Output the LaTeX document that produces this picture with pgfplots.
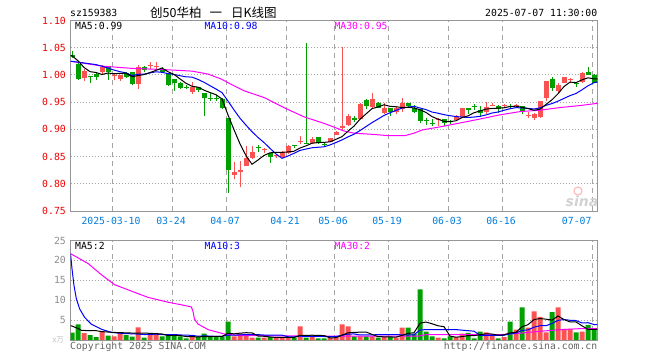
\documentclass[border=0pt]{standalone}
\usepackage{fontspec}
\usepackage{pgfplots}
\usepackage{pgfplotstable}
\pgfplotsset{compat=1.18}
\setmainfont{DejaVu Sans Mono}
\newfontfamily\monof{DejaVu Sans Mono}
\newfontfamily\cjk{Noto Sans CJK SC}
\newfontfamily\sinaf{DejaVu Sans}
\definecolor{cred}{RGB}{250,82,82}
\definecolor{cgreen}{RGB}{0,160,0}
\definecolor{framegray}{RGB}{150,150,150}
\definecolor{gridgray}{RGB}{165,165,165}
\definecolor{tickred}{RGB}{240,0,0}
\definecolor{tickblue}{RGB}{0,125,220}
\definecolor{volgray}{RGB}{140,140,140}
\definecolor{mag}{RGB}{255,0,255}
\definecolor{copygray}{RGB}{100,100,100}
\newcommand{\monosz}{\monof\fontsize{9.8bp}{11bp}\selectfont}

\pgfplotstableread{
i bot top lo hi
2 0.9940 1.0064 0.9880 1.0100
5 1.0046 1.0150 1.0015 1.0187
7 0.9980 1.0000 0.9900 1.0030
8 0.9917 0.9990 0.9890 1.0000
11 0.9833 1.0150 0.9740 1.0175
13 1.0162 1.0182 1.0100 1.0230
14 1.0144 1.0164 1.0089 1.0236
20 0.9683 0.9782 0.9647 0.9867
27 0.8163 0.8212 0.8081 0.8406
28 0.8212 0.8249 0.7940 0.8424
29 0.8333 0.8480 0.8320 0.8689
30 0.8480 0.8590 0.8455 0.8689
32 0.8612 0.8632 0.8572 0.8665
34 0.8502 0.8522 0.8480 0.8530
35 0.8493 0.8590 0.8480 0.8600
36 0.8572 0.8689 0.8554 0.8713
38 0.8765 0.8785 0.8738 0.8879
40 0.8750 0.8830 0.8726 0.8867
43 0.8775 0.8836 0.8762 0.8848
44 0.8898 0.8959 0.8898 0.8971
45 0.9020 0.9069 0.8996 1.0518
46 0.9082 0.9254 0.9070 0.9278
48 0.9192 0.9475 0.9180 0.9487
50 0.9413 0.9560 0.9400 0.9659
52 0.9303 0.9389 0.9290 0.9487
54 0.9315 0.9400 0.9278 0.9425
55 0.9376 0.9487 0.9327 0.9585
61 0.9175 0.9195 0.9070 0.9217
64 0.9168 0.9241 0.9156 0.9266
65 0.9229 0.9389 0.9217 0.9389
69 0.9327 0.9413 0.9290 0.9500
70 0.9428 0.9448 0.9425 0.9487
72 0.9428 0.9448 0.9413 0.9475
74 0.9428 0.9448 0.9413 0.9475
76 0.9247 0.9267 0.9217 0.9327
77 0.9205 0.9290 0.9180 0.9300
78 0.9229 0.9512 0.9217 0.9524
79 0.9585 0.9880 0.9524 0.9892
81 0.9696 0.9818 0.9659 0.9855
82 0.9855 0.9954 0.9843 0.9966
83 0.9898 0.9918 0.9855 0.9941
85 0.9868 1.0027 0.9855 1.0052
}\redtab

\pgfplotstableread{
i bot top lo hi
0 1.0334 1.0370 1.0310 1.0445
1 0.9917 1.0200 0.9900 1.0210
3 0.9955 0.9975 0.9850 0.9980
4 0.9955 1.0015 0.9900 1.0030
6 1.0052 1.0168 0.9904 1.0170
9 0.9966 1.0027 0.9940 1.0045
10 0.9833 1.0046 0.9810 1.0058
12 1.0089 1.0150 1.0058 1.0162
15 1.0052 1.0100 1.0040 1.0138
16 0.9806 1.0027 0.9790 1.0035
17 0.9843 0.9917 0.9708 0.9925
18 0.9769 0.9855 0.9745 0.9867
19 0.9762 0.9782 0.9750 0.9818
21 0.9720 0.9770 0.9695 0.9780
22 0.9567 0.9659 0.9244 0.9665
23 0.9556 0.9576 0.9524 0.9659
24 0.9556 0.9576 0.9524 0.9630
25 0.9389 0.9560 0.9376 0.9570
26 0.8259 0.9217 0.7829 0.9217
31 0.8652 0.8672 0.8590 0.8713
33 0.8493 0.8563 0.8390 0.8570
37 0.8698 0.8718 0.8650 0.8718
39 0.8722 0.8742 0.8722 1.0580
41 0.8750 0.8867 0.8738 0.8867
42 0.8717 0.8737 0.8700 0.8775
47 0.9180 0.9217 0.9143 0.9254
49 0.9438 0.9536 0.9376 0.9560
51 0.9400 0.9487 0.9389 0.9500
53 0.9327 0.9389 0.9241 0.9389
56 0.9425 0.9487 0.9413 0.9487
57 0.9327 0.9400 0.9300 0.9450
58 0.9160 0.9370 0.9110 0.9380
59 0.9158 0.9178 0.9080 0.9217
60 0.9098 0.9118 0.9070 0.9190
62 0.9118 0.9192 0.9070 0.9192
63 0.9138 0.9158 0.9107 0.9168
66 0.9352 0.9389 0.9290 0.9400
67 0.9407 0.9427 0.9364 0.9475
68 0.9300 0.9352 0.9230 0.9438
71 0.9376 0.9425 0.9300 0.9450
73 0.9408 0.9428 0.9376 0.9475
75 0.9340 0.9425 0.9278 0.9438
80 0.9769 0.9929 0.9708 0.9954
84 0.9835 0.9855 0.9780 0.9855
86 1.0003 1.0052 0.9990 1.0150
87 0.9855 1.0003 0.9843 1.0015
}\greentab

\pgfplotstableread{
i v
2 1.7
5 2.2
7 0.9
8 1.8
11 3.2
13 1.3
14 1.6
20 0.75
27 0.9
28 1.6
29 1.3
30 0.6
32 0.6
34 0.6
35 0.6
36 0.6
38 3.45
40 0.75
43 0.6
44 0.7
45 3.9
46 3.45
48 0.9
50 0.9
52 0.75
54 0.6
55 3.1
61 0.6
64 0.75
65 1.6
69 1.9
70 1.3
72 0.75
74 2.6
76 3.1
77 7.2
78 5.8
79 1.9
81 8.2
82 2.8
83 2.8
85 2.1
}\redvol

\pgfplotstableread{
i v
0 1.85
1 3.9
3 1.2
4 0.7
6 1.1
9 1.2
10 0.85
12 0.6
15 0.9
16 1.1
17 1.1
18 0.9
19 0.4
21 0.75
22 1.6
23 0.75
24 0.75
25 0.75
26 4.6
31 0.6
33 0.75
37 0.6
39 0.6
41 0.4
42 0.4
47 0.9
49 0.9
51 0.6
53 0.75
56 3.1
57 1.6
58 12.7
59 2.1
60 0.9
62 0.4
63 0.9
66 1.8
67 0.4
68 2.1
71 0.4
73 4.6
75 8.2
80 7.0
84 1.9
86 3.8
87 2.6
}\greenvol

\pgfplotsset{
  common/.style={scale only axis, width=527bp, xmin=-0.25, xmax=87.58,
    axis line style={draw=framegray, line width=1bp},
    tick style={draw=none},
    xtick={6.75,16.75,25.75,35.75,43.75,52.75,62.75,71.75,86.75},
    xmajorgrids, ymajorgrids,
    x grid style={draw=gridgray, dash pattern=on 5bp off 4bp, line width=1bp},
    y grid style={draw=gridgray, dash pattern=on 1.2bp off 1.8bp, line width=1bp},
    tick label style={font=\monosz},
  },
  candle/.style={draw=none, mark=none, error bars/.cd, y dir=plus, y explicit, error mark=none,
    error bar style={#1}},
}

\begin{document}
\begin{tikzpicture}
\useasboundingbox (0,0) rectangle (660bp,-360bp);

% ---------------- price panel
\begin{axis}[common, at={(70.5bp,-211bp)}, anchor=south west, height=190.5bp,
  ymin=0.75, ymax=1.10,
  xticklabels={2025-03-10,03-24,04-07,04-21,05-06,05-19,06-03,06-16,{}},
  xticklabel style={anchor=center, inner sep=0pt, yshift=-10bp, xshift=-1.5bp, text=tickblue},
  ytick={0.75,0.8,0.85,0.9,0.95,1.0,1.05,1.1},
  yticklabels={0.75,0.80,0.85,0.90,0.95,1.00,1.05,1.10},
  yticklabel style={anchor=east, inner sep=0pt, xshift=-4.5bp, text=tickred},
]
% wicks
\addplot[candle={line width=1bp, draw=cgreen}]
  table[x=i, y=lo, y error plus expr={\thisrow{hi}-\thisrow{lo}}] \greentab;
\addplot[candle={line width=1bp, draw=cred}]
  table[x=i, y=lo, y error plus expr={\thisrow{hi}-\thisrow{lo}}] \redtab;
% bodies
\addplot[candle={line width=5bp, draw=cgreen}]
  table[x=i, y=bot, y error plus expr={\thisrow{top}-\thisrow{bot}}] \greentab;
\addplot[candle={line width=5bp, draw=cred}]
  table[x=i, y=bot, y error plus expr={\thisrow{top}-\thisrow{bot}}] \redtab;

% MA30
\addplot[mag, line width=1bp] coordinates {
(-0.25,1.0248) (0,1.0248) (5,1.0162) (10,1.012) (15,1.010) (20,1.007) (22.7,1.0015)
(24.9,0.9923) (27,0.980) (28.7,0.9708) (32,0.9585) (35.3,0.940) (38.7,0.9229) (42,0.911)
(43.7,0.904) (45.3,0.897) (47,0.893) (49.8,0.891) (52.7,0.8885) (55.5,0.8885) (57,0.893)
(58.4,0.899) (61.3,0.9045) (64.7,0.9118) (68,0.919) (71.3,0.9266) (74.7,0.9327) (78,0.9352)
(81.3,0.940) (84.7,0.9438) (87.58,0.9478)};
% MA10
\addplot[blue, line width=1bp] coordinates {
(-0.25,1.0248) (0,1.0248) (1,1.0235) (2,1.022) (3,1.0205) (4,1.019) (5,1.016) (6,1.0125)
(7,1.009) (8,1.006) (9,1.0038) (10,0.9988) (11,1.0012) (12,1.0014) (13,1.0037) (14,1.0058)
(15,1.0048) (16,1.0024) (17,1.0008) (18,0.9986) (19,0.9965) (20,0.996) (21,0.9917)
(22,0.9865) (23,0.9802) (24,0.9741) (25,0.9675) (26,0.952) (27,0.9357) (28,0.9205)
(29,0.9077) (30,0.8958) (31,0.8851) (32,0.8758) (33,0.8651) (34,0.8548) (35,0.8468)
(36,0.8511) (37,0.856) (38,0.8613) (39,0.8638) (40,0.8662) (41,0.8671) (42,0.868)
(43,0.8714) (44,0.8758) (45,0.8806) (46,0.8862) (47,0.8911) (48,0.8979) (49,0.9051)
(50,0.9124) (51,0.9189) (52,0.9256) (53,0.9305) (54,0.9349) (55,0.9391) (56,0.9409)
(57,0.9423) (58,0.9392) (59,0.9363) (60,0.9318) (61,0.9297) (62,0.927) (63,0.9251)
(64,0.9235) (65,0.9225) (66,0.9218) (67,0.9226) (68,0.924) (69,0.9265) (70,0.93)
(71,0.9319) (72,0.9351) (73,0.9379) (74,0.9399) (75,0.9394) (76,0.9386) (77,0.9374)
(78,0.9395) (79,0.9442) (80,0.9474) (81,0.9518) (82,0.9569) (83,0.962) (84,0.9659)
(85,0.9727) (86,0.9801) (87,0.9858) (87.58,0.9872)};
% MA5
\addplot[black, line width=1bp] coordinates {
(-0.25,1.036) (0,1.0353) (1,1.026) (2,1.0138) (3,1.006) (4,1.0045) (5,1.0008) (6,1.0035)
(7,1.0022) (8,1.0029) (9,1.0032) (10,0.9968) (11,0.9988) (12,1.0006) (13,1.0044) (14,1.0084)
(15,1.0127) (16,1.0059) (17,1.0009) (18,0.9927) (19,0.9846) (20,0.9792) (21,0.9775)
(22,0.972) (23,0.9677) (24,0.9636) (25,0.9558) (26,0.9265) (27,0.8994) (28,0.8733)
(29,0.8518) (30,0.8358) (31,0.8437) (32,0.8521) (33,0.8569) (34,0.8578) (35,0.8578)
(36,0.8585) (37,0.8598) (38,0.8657) (39,0.8697) (40,0.8745) (41,0.8757) (42,0.8761)
(43,0.8771) (44,0.8818) (45,0.8866) (46,0.8967) (47,0.906) (48,0.9187) (49,0.9283)
(50,0.9381) (51,0.9411) (52,0.9452) (53,0.9423) (54,0.9415) (55,0.9401) (56,0.9406)
(57,0.9393) (58,0.936) (59,0.9311) (60,0.9234) (61,0.9188) (62,0.9146) (63,0.9141)
(64,0.9158) (65,0.9216) (66,0.9248) (67,0.9305) (68,0.9338) (69,0.9372) (70,0.9384)
(71,0.9389) (72,0.9397) (73,0.9419) (74,0.9426) (75,0.9404) (76,0.9382) (77,0.9351)
(78,0.9371) (79,0.9458) (80,0.9544) (81,0.9654) (82,0.9787) (83,0.9868) (84,0.9859)
(85,0.991) (86,0.9947) (87,0.9928) (87.58,0.9925)};
\end{axis}

% ---------------- volume panel
\begin{axis}[common, at={(70.5bp,-340bp)}, anchor=south west, height=99.5bp,
  ymin=0, ymax=25,
  xticklabels={,,,,,,,,},
  ytick={5,10,15,20}, yticklabels={,,,},
]
\addplot[ybar, bar width=5bp, bar shift=0pt, fill=cred, draw=none] table[x=i, y=v] \redvol;
\addplot[ybar, bar width=5bp, bar shift=0pt, fill=cgreen, draw=none] table[x=i, y=v] \greenvol;
% MA30 volume
\addplot[mag, line width=1bp] coordinates {
(-0.25,21.7) (2.7,19.2) (4.9,16.4) (7.1,13.9) (10.4,12.0) (12.7,10.7) (16,9.5) (18.2,8.85)
(19.9,8.3) (20.2,7.0) (20.4,5.3) (21,4.0) (22.7,2.6) (25.4,1.5) (28.2,1.1) (43.3,1.0)
(57.8,1.0) (58.9,1.33) (71.1,1.33) (74.4,1.67) (77.8,2.17) (82.2,2.67) (84.4,2.83) (87.58,2.83)};
% MA10 volume
\addplot[blue, line width=1bp] coordinates {
(-0.25,21.7) (0,17.9) (0.33,13.7) (0.72,10.4) (1.28,7.8) (2.1,5.7) (3.2,4.0) (4.9,2.7)
(6.6,1.9) (8.8,1.6) (10,1.56) (11,1.49) (12,1.38) (13,1.39) (14,1.48) (15,1.35) (16,1.35)
(17,1.37) (18,1.28) (19,1.2) (20,1.19) (21,0.94) (22,1.04) (23,0.99) (24,0.9) (25,0.89)
(26,1.24) (27,1.22) (28,1.29) (29,1.38) (30,1.36) (31,1.35) (32,1.25) (33,1.25) (34,1.23)
(35,1.22) (36,0.82) (37,0.79) (38,0.97) (39,0.9) (40,0.92) (41,0.9) (42,0.88) (43,0.86)
(44,0.87) (45,1.2) (46,1.49) (47,1.52) (48,1.26) (49,1.29) (50,1.31) (51,1.33) (52,1.36)
(53,1.38) (54,1.37) (55,1.29) (56,1.25) (57,1.32) (58,2.5) (59,2.62) (60,2.62) (61,2.62)
(62,2.59) (63,2.6) (64,2.62) (65,2.47) (66,2.34) (67,2.22) (68,1.16) (69,1.14) (70,1.18)
(71,1.16) (72,1.19) (73,1.56) (74,1.75) (75,2.41) (76,2.54) (77,3.22) (78,3.59) (79,3.59)
(80,4.16) (81,4.94) (82,5.14) (83,4.96) (84,4.89) (85,4.28) (86,4.35) (87,3.89) (87.58,3.89)};
% MA5 volume
\addplot[black, line width=1bp] coordinates {
(-0.25,3.6) (0,3.5) (1,2.9) (1.6,2.4) (4,2.35) (5,2.1) (7,1.9) (9,1.8) (10,1.75) (12,1.75)
(14,1.6) (15,1.52) (16,1.1) (17,1.2) (18,1.12) (19,0.88) (20,0.85) (21,0.78) (22,0.88)
(23,0.85) (24,0.92) (25,0.92) (26,1.69) (27,1.55) (28,1.72) (29,1.83) (30,1.8) (31,1.0)
(32,0.94) (33,0.77) (34,0.63) (35,0.63) (36,0.63) (37,0.63) (38,1.17) (39,1.17) (40,1.2)
(41,1.16) (42,1.12) (43,0.55) (44,0.57) (45,1.2) (46,1.81) (47,1.91) (48,1.97) (49,2.01)
(50,1.41) (51,0.84) (52,0.81) (53,0.78) (54,0.72) (55,1.16) (56,1.66) (57,1.83) (58,4.22)
(59,4.52) (60,4.08) (61,3.58) (62,3.34) (63,0.98) (64,0.71) (65,0.85) (66,1.09) (67,1.09)
(68,1.33) (69,1.56) (70,1.5) (71,1.22) (72,1.29) (73,1.79) (74,1.93) (75,3.31) (76,3.85)
(77,5.14) (78,5.38) (79,5.24) (80,5.0) (81,6.02) (82,5.14) (83,4.54) (84,4.54) (85,3.56)
(86,2.68) (87,2.64) (87.58,2.64)};
\end{axis}

% ---------------- volume y labels
\foreach \v/\yy in {25/240.5, 20/260.3, 15/280.2, 10/300.1, 5/320}{
  \node[anchor=east, inner sep=0pt, font=\monosz, text=volgray] at (66bp,-\yy bp) {\v};
}

% ---------------- texts
\node[anchor=west, inner sep=0pt, font=\monosz] at (70bp,-13.3bp) {sz159383};
\node[anchor=east, inner sep=0pt, font=\monosz] at (597.5bp,-12.5bp) {2025-07-07 11:30:00};
\node[anchor=west, inner sep=0pt, font=\cjk\fontsize{12.5bp}{13bp}\selectfont] at (150bp,-12.7bp) {创50华柏\hspace{8bp}一\hspace{9bp}日K线图};
\node[anchor=west, inner sep=0pt, font=\monosz] at (75bp,-25.5bp) {MA5:0.99};
\node[anchor=west, inner sep=0pt, font=\monosz, text=blue] at (204.3bp,-25.5bp) {MA10:0.98};
\node[anchor=west, inner sep=0pt, font=\monosz, text=mag] at (334.3bp,-25.5bp) {MA30:0.95};
\node[anchor=west, inner sep=0pt, font=\monosz] at (75bp,-246bp) {MA5:2};
\node[anchor=west, inner sep=0pt, font=\monosz, text=blue] at (204.5bp,-246bp) {MA10:3};
\node[anchor=west, inner sep=0pt, font=\monosz, text=mag] at (334.5bp,-246bp) {MA30:2};
\node[anchor=center, inner sep=0pt, font=\monosz, text=tickblue] at (576.7bp,-221bp) {07-07};
\node[anchor=west, inner sep=0pt, font=\monosz, text=copygray] at (70bp,-347bp) {Copyright 2025 SINA.COM};
\node[anchor=east, inner sep=0pt, font=\monosz, text=copygray] at (597.5bp,-347bp) {http://finance.sina.com.cn};
\node[anchor=east, inner sep=0pt, font=\cjk\fontsize{7.5bp}{8bp}\selectfont, text=gray!50] at (64bp,-340bp) {x万};
% sina watermark
\draw[red!25, line width=1.3bp] (578bp,-191bp) circle (4bp);
\node[inner sep=0pt, font=\sinaf\bfseries\itshape\fontsize{14bp}{14bp}\selectfont, text=gray!35] at (582bp,-201bp) {sina};
\end{tikzpicture}
\end{document}
